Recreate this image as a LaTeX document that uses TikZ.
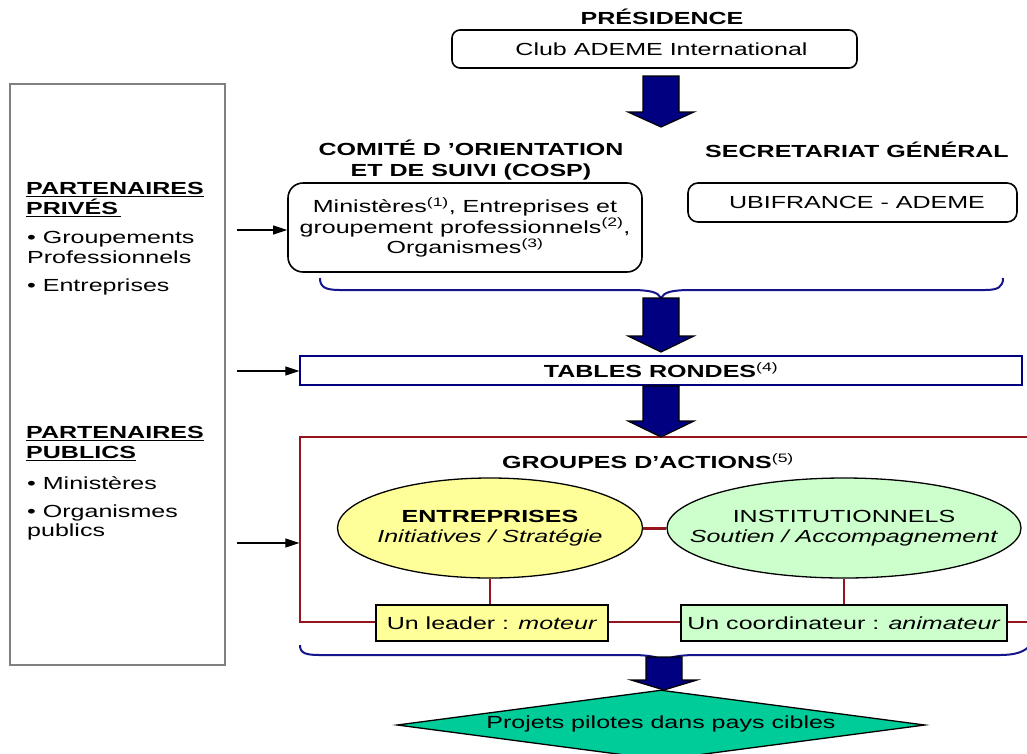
\documentclass[tikz,border=0pt]{standalone}
\usepackage{fontspec}
\setmainfont{Liberation Sans}[FakeStretch=1.43]
\usetikzlibrary{shapes.geometric,arrows.meta,calc}
\definecolor{navyA}{RGB}{0,0,128}
\definecolor{braceC}{RGB}{20,20,140}
\definecolor{redC}{RGB}{150,20,30}
\definecolor{yel}{RGB}{255,255,153}
\definecolor{grn}{RGB}{204,255,204}
\definecolor{dteal}{RGB}{0,204,153}
\definecolor{grayb}{RGB}{128,128,128}
\newcommand\fs{\fontsize{17.5}{20.5}\selectfont}
\newcommand\fsl{\fontsize{17.5}{19.5}\selectfont}
\newcommand\supr[1]{\textsuperscript{\mdseries #1}}
\newcommand\bigarr[3]{%
  \filldraw[navyarr] let \p1=(#1), \p2=(#2) in
   (\x1-18pt,\y1) -- (\x1+18pt,\y1) -- (\x1+18pt,\y2+#3) -- (\x1+33pt,\y2+#3)
   -- (\x1,\y2) -- (\x1-33pt,\y2+#3) -- (\x1-18pt,\y2+#3) -- cycle;}
\begin{document}
\begin{tikzpicture}[x=1pt,y=-1pt,
  every node/.style={font=\fs, inner sep=0pt},
  ttl/.style={font=\fs\bfseries},
  rbox/.style={draw=black, line width=1.6pt, rounded corners=8pt},
  navyarr/.style={fill=navyA, draw=black, line width=1.2pt},
  bracesty/.style={draw=braceC, line width=2pt},
  redl/.style={draw=redC, line width=1.3pt},
  lefttxt/.style={anchor=west, align=left, font=\fsl},
  leftttl/.style={anchor=west, align=left, font=\fsl\bfseries},
  feed/.style={-{Triangle[length=14pt,width=9pt]}, line width=1.2pt},
  fillbox/.style={draw=black, line width=1.3pt}]

\useasboundingbox (0,0) rectangle (1027,753);

% left panel
\node[draw=grayb, line width=2pt, minimum width=215pt, minimum height=581pt] (part) at (117.5,374.5) {};
\node[leftttl] (privt) at (26,199.5) {\underline{PARTENAIRES}\\\underline{PRIVÉS\,}};
\node[lefttxt] (priv1) at (27,247.5) {• Groupements\\Professionnels};
\node[lefttxt] (priv2) at (27,287) {• Entreprises};
\node[leftttl] (pubt) at (26,443.5) {\underline{PARTENAIRES}\\\underline{PUBLICS}};
\node[lefttxt] (pub1) at (27,483) {• Ministères};
\node[lefttxt] (pub2) at (27,522.5) {• Organismes\\publics};

% top
\node[ttl] (pres) at (662,17) {PRÉSIDENCE};
\node[rbox, minimum width=405pt, minimum height=38pt] (club) at (654.5,49) {\hspace{14pt}Club ADEME International};

\node[ttl, align=center] (costit) at (471,160) {COMITÉ D 'ORIENTATION\\ET DE SUIVI (COSP)};
\node[ttl] (sectit) at (857,150) {SECRETARIAT GÉNÉRAL};
\node[rbox, rounded corners=15pt, minimum width=354pt, minimum height=89pt, align=center] (cosp) at (465,227.5) {Ministères\supr{(1)}, Entreprises et\\groupement professionnels\supr{(2)},\\Organismes\supr{(3)}};
\node[rbox, rounded corners=10pt, minimum width=329pt, minimum height=39pt] (ubi) at (852.5,202.5) {\hspace{9pt}UBIFRANCE - ADEME};

% brace 1
\draw[bracesty] (320,278) .. controls (320,287) and (325,290) .. (340,290) -- (630,290)
  .. controls (650,290) and (658,292) .. (661,298)
  .. controls (664,292) and (672,290) .. (692,290) -- (985,290)
  .. controls (998,290) and (1003,287) .. (1003,278);

% tables rondes
\node[draw=navyA, line width=1.3pt, minimum width=722pt, minimum height=29pt, font=\fs\bfseries] (tables) at (661,370.5) {TABLES RONDES\supr{(4)}};

% groupes d'actions
\node[draw=redC, line width=1.3pt, minimum width=740pt, minimum height=185pt] (grp) at (670,529.5) {};
\node[ttl] (grptit) at (648,461) {GROUPES D’ACTIONS\supr{(5)}};
\node[ellipse, fillbox, fill=yel, minimum width=305pt, minimum height=100pt] (ent) at (490,528) {};
\node[align=center] (entt) at (ent) {\textbf{ENTREPRISES}\\\textit{Initiatives / Stratégie}};
\node[ellipse, fillbox, fill=grn, minimum width=354pt, minimum height=100pt] (inst) at (844,528) {};
\node[align=center] (instt) at (inst) {INSTITUTIONNELS\\\textit{Soutien / Accompagnement}};
\draw[draw=redC, line width=3pt] (ent.east) -- (inst.west);
\node[fillbox, fill=yel, minimum width=232pt, minimum height=36pt] (lead) at (492,623) {Un leader : \textit{moteur}};
\node[fillbox, fill=grn, minimum width=326pt, minimum height=36pt] (coord) at (844,623) {Un coordinateur : \textit{animateur}};
\draw[redl] (ent.south) -- (ent.south |- lead.north);
\draw[redl] (inst.south) -- (inst.south |- coord.north);

% brace 2
\draw[bracesty] (300,645) .. controls (300,653) and (305,655) .. (320,655) -- (630,655)
  .. controls (650,655) and (660,657) .. (664,662)
  .. controls (668,657) and (678,655) .. (698,655) -- (1000,655)
  .. controls (1015,655) and (1025,652) .. (1030,645);

% projets
\node[diamond, fillbox, fill=dteal, minimum width=528pt, minimum height=70pt] (proj) at (661,725) {};
\node (projt) at (661,724) {Projets pilotes dans pays cibles};

% big arrows
\coordinate (a1s) at (661,76);  \coordinate (a1e) at (661,127);
\coordinate (a2s) at (661,298); \coordinate (a2e) at (661,352);
\coordinate (a3s) at (661,386); \coordinate (a3e) at (661,437);
\coordinate (a4s) at (664,657); \coordinate (a4e) at (664,690);
\bigarr{a1s}{a1e}{15pt}
\bigarr{a2s}{a2e}{16pt}
\bigarr{a3s}{a3e}{16pt}
\bigarr{a4s}{a4e}{10pt}

% feed arrows
\coordinate (f1) at (237,230);
\coordinate (f2) at (237,371);
\coordinate (f3) at (237,543);
\draw[feed] (f1) -- (f1 -| cosp.west);
\draw[feed] (f2) -- (f2 -| tables.west);
\draw[feed] (f3) -- (f3 -| grp.west);
\end{tikzpicture}
\end{document}
